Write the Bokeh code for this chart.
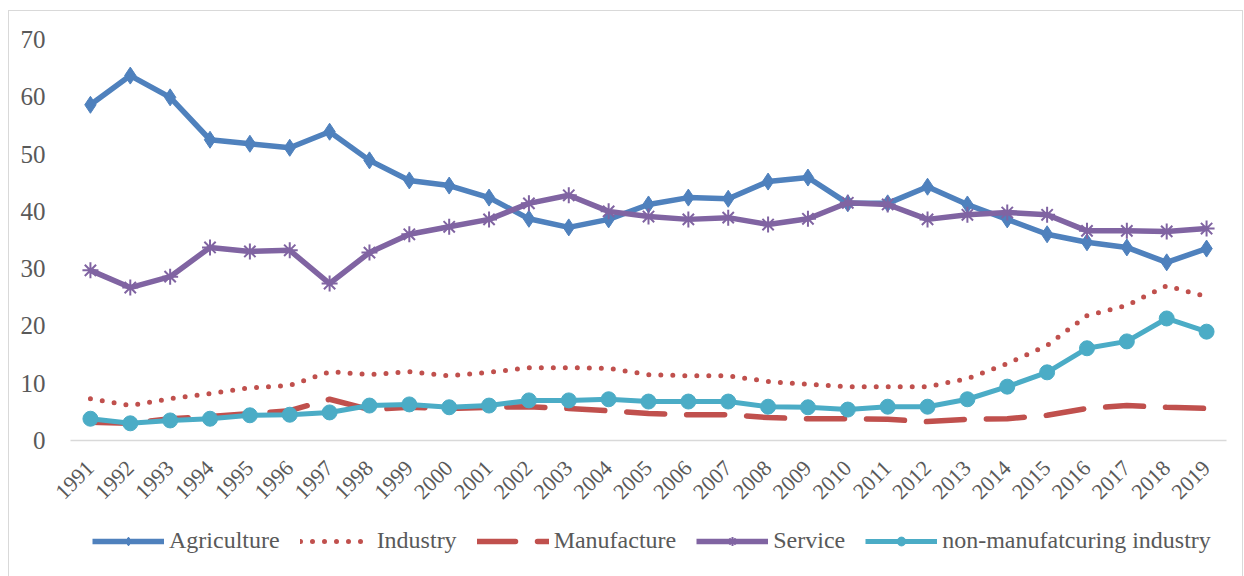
import math
from bokeh.plotting import figure
from bokeh.layouts import column
from bokeh.models import FactorRange, Range1d, FixedTicker, Legend, LegendItem
from bokeh.embed import file_html
from bokeh.resources import INLINE

years = [str(y) for y in range(1991, 2020)]

agriculture = [58.6, 63.7, 59.9, 52.5, 51.8, 51.1, 53.9, 48.9, 45.4, 44.5, 42.4, 38.7, 37.2, 38.6,
               41.2, 42.4, 42.2, 45.2, 45.9, 41.4, 41.4, 44.3, 41.2, 38.6, 36.0, 34.6, 33.7, 31.1, 33.5]
industry = [7.3, 6.1, 7.3, 8.2, 9.2, 9.6, 12.0, 11.5, 12.0, 11.3, 11.9, 12.7, 12.7, 12.6,
            11.5, 11.3, 11.3, 10.3, 9.8, 9.4, 9.4, 9.4, 10.8, 13.4, 16.6, 21.8, 23.6, 27.0, 25.1]
manufacture = [3.2, 3.0, 3.8, 4.2, 4.7, 5.2, 7.2, 5.4, 5.8, 5.6, 5.8, 5.9, 5.6, 5.2,
               4.7, 4.5, 4.5, 4.0, 3.8, 3.8, 3.7, 3.3, 3.7, 3.8, 4.4, 5.6, 6.1, 5.8, 5.6]
service = [29.7, 26.7, 28.6, 33.7, 33.0, 33.2, 27.4, 32.8, 36.0, 37.3, 38.6, 41.4, 42.8, 40.0,
           39.1, 38.6, 38.9, 37.7, 38.7, 41.5, 41.2, 38.6, 39.4, 39.8, 39.4, 36.6, 36.6, 36.5, 37.0]
non_manuf = [3.8, 3.0, 3.5, 3.8, 4.4, 4.5, 4.9, 6.1, 6.3, 5.8, 6.1, 7.0, 7.0, 7.2,
             6.8, 6.8, 6.8, 5.9, 5.8, 5.4, 5.9, 5.9, 7.2, 9.4, 11.9, 16.1, 17.3, 21.3, 19.0]
y_ticks = [0, 10, 20, 30, 40, 50, 60, 70]
series_names = ["Agriculture", "Industry", "Manufacture", "Service", "non-manufatcuring industry"]

C_AGR = "#4F81BD"
C_IND = "#C0504D"
C_SER = "#8064A2"
C_NON = "#4BACC6"
FONT = "Liberation Serif"
TXT = "#595959"

STY = {
    "agr_line": dict(line_color=C_AGR, line_width=5.5, line_join="round"),
    "agr_mark": dict(marker="diamond", size=17, fill_color=C_AGR, line_color=C_AGR),
    "ind_line": dict(line_color=C_IND, line_width=5, line_dash="0 12", line_cap="round"),
    "man_line": dict(line_color=C_IND, line_width=5.5, line_dash="38 22", line_cap="round"),
    "ser_line": dict(line_color=C_SER, line_width=5.5, line_join="round"),
    "ser_mark": dict(marker="asterisk", size=16, line_color=C_SER, line_width=2),
    "non_line": dict(line_color=C_NON, line_width=5, line_join="round"),
    "non_mark": dict(marker="circle", size=15, fill_color=C_NON, line_color=C_NON),
}


def draw_series(fig):
    r = {}
    r["agr"] = [fig.line(years, agriculture, **STY["agr_line"]),
                fig.scatter(years, agriculture, **STY["agr_mark"])]
    r["ind"] = [fig.line(years, industry, **STY["ind_line"])]
    r["man"] = [fig.line(years, manufacture, **STY["man_line"])]
    r["ser"] = [fig.line(years, service, **STY["ser_line"]),
                fig.scatter(years, service, **STY["ser_mark"])]
    r["non"] = [fig.line(years, non_manuf, **STY["non_line"]),
                fig.scatter(years, non_manuf, **STY["non_mark"])]
    return r


W = 1233
xr = FactorRange(*years, range_padding=0)
p = figure(width=W, height=510, x_range=xr,
           y_range=Range1d(0, 70), output_backend="svg", toolbar_location=None,
           min_border_left=61, min_border_right=16, min_border_top=28, min_border_bottom=81)
p.outline_line_color = None
p.xgrid.visible = False
p.ygrid.visible = False

p.yaxis.ticker = FixedTicker(ticks=y_ticks)
p.yaxis.axis_line_color = None
p.yaxis.major_tick_line_color = None
p.yaxis.minor_tick_line_color = None
p.yaxis.major_label_standoff = 19
p.yaxis.major_label_text_font = FONT
p.yaxis.major_label_text_font_size = "25px"
p.yaxis.major_label_text_color = TXT

p.xaxis.axis_line_color = "#d9d9d9"
p.xaxis.axis_line_width = 1.5
p.xaxis.major_tick_line_color = None
p.xaxis.minor_tick_line_color = None
p.xaxis.major_label_orientation = math.pi / 4
p.xaxis.major_label_standoff = 18
p.xaxis.major_label_text_font = FONT
p.xaxis.major_label_text_font_size = "22px"
p.xaxis.major_label_text_color = TXT

draw_series(p)

# legend strip: same series drawn in a separate figure whose y-range keeps them out of view,
# so that the legend sits below the chart without being clipped by the plot frame
p2 = figure(width=W, height=62, x_range=xr, y_range=Range1d(1000, 1001),
            x_axis_type=None, y_axis_type=None,
            output_backend="svg", toolbar_location=None,
            min_border_left=0, min_border_right=0, min_border_top=0, min_border_bottom=0)
p2.grid.visible = False
p2.outline_line_color = None
rr = draw_series(p2)

legend = Legend(items=[LegendItem(label=n, renderers=rr[k]) for n, k in
                       zip(series_names, ["agr", "ind", "man", "ser", "non"])],
                orientation="horizontal", location=(22, 29))
legend.glyph_width = 72
legend.glyph_height = 22
legend.label_standoff = 5
legend.spacing = 20
legend.padding = 3
legend.margin = 0
legend.border_line_color = None
legend.background_fill_alpha = 0
legend.label_text_font = FONT
legend.label_text_font_size = "24px"
legend.label_text_color = TXT
p2.add_layout(legend, "center")

layout = column(p, p2, spacing=0, margin=(10, 0, 0, 8))
layout.styles = {"border": "1px solid #d9d9d9"}

open("out.html", "w").write(file_html(layout, INLINE))
